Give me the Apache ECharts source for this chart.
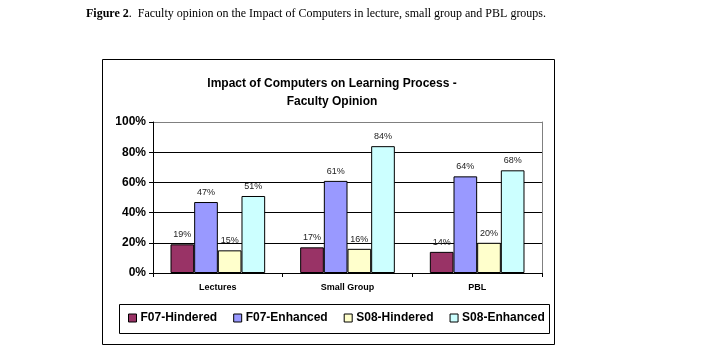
<!DOCTYPE html>
<html>
<head>
<meta charset="utf-8">
<script src="https://cdn.jsdelivr.net/npm/echarts@6/dist/echarts.min.js"></script>
<style>html,body{margin:0;padding:0;background:#fff;}#c{width:720px;height:364px;}</style>
</head>
<body>
<div id="c"></div>
<script>
var categories = ['Lectures', 'Small Group', 'PBL'];
var seriesNames = ['F07-Hindered', 'F07-Enhanced', 'S08-Hindered', 'S08-Enhanced'];
var f07Hindered = [19, 17, 14];
var f07Enhanced = [47, 61, 64];
var s08Hindered = [15, 16, 20];
var s08Enhanced = [51, 84, 68];
var yTicks = [0, 20, 40, 60, 80, 100];
var colors = ['#993366', '#9999FF', '#FFFFCC', '#CCFFFF'];
var allValues = [f07Hindered, f07Enhanced, s08Hindered, s08Enhanced];

var chart = echarts.init(document.getElementById('c'));
var font = 'Liberation Sans, Arial, sans-serif';
var series = seriesNames.map(function (n, i) {
  return {
    name: n, type: 'bar', data: allValues[i],
    barGap: '0%', barCategoryGap: '27%',
    itemStyle: { color: colors[i], borderColor: '#000', borderWidth: 1 },
    label: { show: true, position: 'top', distance: 5, formatter: '{c}%', fontFamily: font, fontSize: 9, color: '#222' }
  };
});
chart.setOption({
  animation: false,
  backgroundColor: '#fff',
  title: [
    {
      left: 86, top: 8, padding: 0,
      text: '{b|Figure 2}.  Faculty opinion on the Impact of Computers in lecture, small group and PBL groups.',
      textStyle: {
        fontFamily: 'Liberation Serif, Times New Roman, serif', fontSize: 12, fontWeight: 'normal', color: '#000',
        rich: { b: { fontFamily: 'Liberation Serif, Times New Roman, serif', fontSize: 12, fontWeight: 'bold', color: '#000' } }
      }
    },
    {
      left: 327, textAlign: 'center', top: 70,
      text: 'Impact of Computers on Learning Process -\nFaculty Opinion',
      textStyle: { fontFamily: font, fontSize: 12, fontWeight: 'bold', color: '#000', lineHeight: 18 }
    }
  ],
  graphic: [
    { type: 'rect', shape: { x: 102.5, y: 59.5, width: 452, height: 285 }, style: { fill: null, stroke: '#000', lineWidth: 1 }, z: -1 },
    { type: 'rect', shape: { x: 119.5, y: 304.5, width: 430, height: 29 }, style: { fill: null, stroke: '#000', lineWidth: 1 }, z: -1 }
  ],
  legend: {
    left: 128, top: 312, padding: 0,
    itemWidth: 8, itemHeight: 8, itemGap: 16,
    icon: 'rect',
    itemStyle: { borderColor: '#000', borderWidth: 1 },
    textStyle: { fontFamily: font, fontSize: 12, fontWeight: 'bold', color: '#000', padding: [0, 0, 0, -1] },
    data: seriesNames
  },
  grid: { left: 153, right: 178, top: 122, bottom: 91 },
  xAxis: {
    type: 'category', data: categories,
    axisLine: { lineStyle: { color: '#000', width: 1 } },
    axisTick: { show: true, alignWithLabel: false, length: 4, lineStyle: { color: '#000' } },
    axisLabel: { fontFamily: font, fontSize: 9, fontWeight: 'bold', color: '#000', margin: 10 }
  },
  yAxis: [
    {
      type: 'value', min: 0, max: 100, interval: 20,
      axisLine: { show: true, lineStyle: { color: '#000' } },
      axisTick: { show: true, length: 4, lineStyle: { color: '#000' } },
      axisLabel: { fontFamily: font, fontSize: 12, fontWeight: 'bold', color: '#000', margin: 7, formatter: '{value}%' },
      splitLine: { show: true, lineStyle: { color: ['#000', '#000', '#000', '#000', '#000', '#808080'], width: 1 } }
    },
    {
      type: 'value', min: 0, max: 100, interval: 20, position: 'right',
      axisLine: { show: true, lineStyle: { color: '#808080' } },
      axisTick: { show: false }, axisLabel: { show: false }, splitLine: { show: false }
    }
  ],
  series: series
});
</script>
</body>
</html>
